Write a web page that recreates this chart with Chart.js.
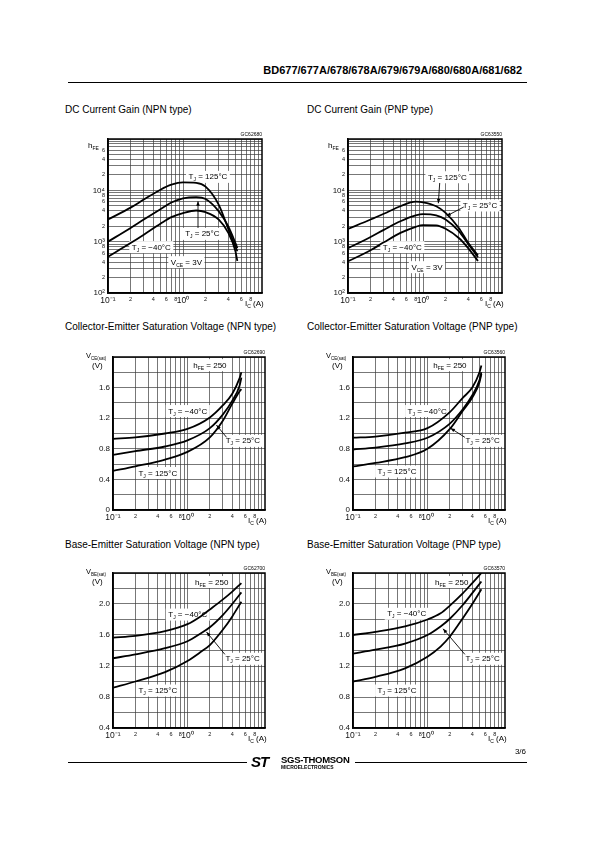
<!DOCTYPE html>
<html><head><meta charset="utf-8"><title>BD677 characteristic curves</title>
<script src="https://cdn.jsdelivr.net/npm/chart.js@4.4.1/dist/chart.umd.min.js"></script>
<style>
html,body{margin:0;padding:0;background:#fff}
body{position:relative;width:595px;height:842px;overflow:hidden;font-family:"Liberation Sans",Arial,sans-serif;color:#000}
.t{position:absolute;white-space:nowrap;line-height:1}
.sec{font-size:10px}
canvas{position:absolute}
.rule{position:absolute;height:0;border-top:1px solid #000}
</style></head><body>
<div class="t" style="right:73px;top:65px;font-size:11px;font-weight:bold">BD677/677A/678/678A/679/679A/680/680A/681/682</div>
<div class="rule" style="left:68px;top:82px;width:459px"></div>

<div class="t sec" style="left:65px;top:105px">DC Current Gain (NPN type)</div>
<div class="t sec" style="left:307px;top:105px">DC Current Gain (PNP type)</div>
<div class="t sec" style="left:65px;top:322px">Collector-Emitter Saturation Voltage (NPN type)</div>
<div class="t sec" style="left:307px;top:322px">Collector-Emitter Saturation Voltage (PNP type)</div>
<div class="t sec" style="left:65px;top:540px">Base-Emitter Saturation Voltage (NPN type)</div>
<div class="t sec" style="left:307px;top:540px">Base-Emitter Saturation Voltage (PNP type)</div>

<canvas id="c1" width="228" height="202" style="left:58px;top:117px"></canvas>
<canvas id="c2" width="228" height="202" style="left:298px;top:117px"></canvas>
<canvas id="c3" width="226" height="201" style="left:63px;top:335px"></canvas>
<canvas id="c4" width="226" height="201" style="left:303px;top:335px"></canvas>
<canvas id="c5" width="226" height="203" style="left:63px;top:551px"></canvas>
<canvas id="c6" width="226" height="203" style="left:303px;top:551px"></canvas>

<div class="t" style="right:69px;top:748px;font-size:8px">3/6</div>
<div class="rule" style="left:68px;top:762px;width:179px"></div>
<div class="t" style="left:251px;top:754px;font-size:15px;font-weight:bold;font-style:italic;letter-spacing:-1px">ST</div>
<div class="t" style="left:281px;top:755px;font-size:9.5px;font-weight:bold;letter-spacing:-0.3px">SGS-THOMSON</div>
<div class="t" style="left:281px;top:765px;font-size:5px;font-weight:bold">MICROELECTRONICS</div>
<div class="rule" style="left:355px;top:762px;width:172px"></div>

<script>
// ---------- data ----------
// DC current gain, NPN (hFE vs IC, VCE = 3 V)
const hfeNpnIc  = [0.1, 0.2, 0.3, 0.5, 0.7, 1, 1.5, 2, 3, 4, 5, 5.3];
const hfeNpn125 = [2700, 4600, 6600, 10300, 12900, 14300, 14000, 11800, 5200, 1800, 800, 650];
const hfeNpn25  = [1000, 1850, 2700, 4300, 5800, 7000, 7400, 6800, 3900, 2000, 940, 750];
const hfeNpnM40 = [510, 940, 1370, 2240, 3000, 3600, 4050, 3750, 2700, 1500, 650, 420];
// DC current gain, PNP
const hfePnpIc  = [0.1, 0.2, 0.3, 0.5, 0.8, 1, 1.5, 2, 3, 4, 5.4];
const hfePnp125 = [1770, 2700, 3500, 4900, 6000, 5850, 4900, 3650, 1850, 950, 540];
const hfePnp25  = [750, 1230, 1700, 2500, 3250, 3450, 3250, 2700, 1600, 900, 500];
const hfePnpM40 = [415, 680, 970, 1480, 1950, 2100, 2080, 1780, 1180, 750, 420];
// VCE(sat), NPN (hFE = 250)
const vceNpnIc  = [0.1, 0.2, 0.5, 1, 2, 3, 4, 5, 5.3];
const vceNpnM40 = [0.93, 0.95, 1.0, 1.06, 1.21, 1.37, 1.52, 1.72, 1.80];
const vceNpn25  = [0.72, 0.77, 0.83, 0.91, 1.07, 1.25, 1.43, 1.62, 1.73];
const vceNpn125 = [0.51, 0.57, 0.66, 0.76, 0.95, 1.17, 1.39, 1.55, 1.58];
// VCE(sat), PNP
const vcePnpIc  = [0.1, 0.2, 0.5, 1, 2, 3, 4, 5, 5.3];
const vcePnpM40 = [0.945, 0.96, 1.01, 1.07, 1.28, 1.47, 1.60, 1.80, 1.89];
const vcePnp25  = [0.79, 0.815, 0.87, 0.945, 1.13, 1.32, 1.50, 1.70, 1.80];
const vcePnp125 = [0.57, 0.615, 0.69, 0.80, 1.06, 1.30, 1.47, 1.67, 1.78];
// VBE(sat), NPN
const vbeNpnIc  = [0.1, 0.2, 0.5, 1, 1.5, 2, 3, 4, 5.3];
const vbeNpnM40 = [1.567, 1.59, 1.65, 1.74, 1.84, 1.93, 2.06, 2.16, 2.27];
const vbeNpn25  = [1.30, 1.35, 1.43, 1.52, 1.62, 1.70, 1.86, 2.0, 2.15];
const vbeNpn125 = [0.92, 1.0, 1.12, 1.265, 1.38, 1.47, 1.67, 1.84, 2.03];
// VBE(sat), PNP
const vbePnpIc  = [0.1, 0.2, 0.5, 1, 1.5, 2, 3, 4, 5.3];
const vbePnpM40 = [1.60, 1.64, 1.71, 1.80, 1.88, 1.98, 2.14, 2.27, 2.40];
const vbePnp25  = [1.36, 1.41, 1.49, 1.60, 1.71, 1.81, 1.99, 2.14, 2.29];
const vbePnp125 = [1.0, 1.06, 1.17, 1.32, 1.45, 1.58, 1.82, 2.0, 2.19];

// tick labels
const icTickValues  = [0.1, 0.2, 0.4, 0.6, 0.8, 1, 2, 4, 6, 8];
const icTickLabels  = ['10⁻¹', '2', '4', '6', '8', '10⁰', '2', '4', '6', '8'];
const hfeTickValues = [100, 200, 400, 600, 800, 1000, 2000, 4000, 6000, 8000, 10000, 20000, 40000, 60000];
const hfeTickLabels = ['10²', '2', '4', '6', '8', '10³', '2', '4', '6', '8', '10⁴', '2', '4', '6'];
const vceTickValues = [0, 0.4, 0.8, 1.2, 1.6];
const vceTickLabels = ['0', '0.4', '0.8', '1.2', '1.6'];
const vbeTickValues = [0.4, 0.8, 1.2, 1.6, 2.0];
const vbeTickLabels = ['0.4', '0.8', '1.2', '1.6', '2.0'];

// ---------- helpers ----------
const FONT = '"Liberation Sans", Arial, sans-serif';
function logGrid(lo, hi) {
  const out = [];
  for (let e = lo; e < hi; e++) for (let m = 1; m < 10; m++) out.push(+(m * Math.pow(10, e)).toPrecision(3));
  out.push(+Math.pow(10, hi).toPrecision(3));
  return out;
}
function linGrid(a, b, step) {
  const out = [];
  for (let v = a; v <= b + 1e-9; v += step) out.push(+v.toFixed(3));
  return out;
}
const icGrid = logGrid(-1, 1);
const hfeGrid = logGrid(2, 5);
const vceGrid = linGrid(0, 2, 0.2);
const vbeGrid = linGrid(0.4, 2.4, 0.2);

function findIdx(v, vals) {
  return vals.findIndex(a => Math.abs(a - v) <= Math.abs(a) * 1e-6 + 1e-9);
}
function isDecadeLabel(lbl) { return lbl && lbl.indexOf('10') === 0; }

function makeAxis(opts) {
  const {type, min, max, grid, tickVals, tickLbls, isX, size} = opts;
  return {
    type, min, max,
    afterBuildTicks: s => { s.ticks = grid.map(v => ({value: v})); },
    afterFit: s => { if (isX) s.height = 26; else s.width = 50; },
    ticks: {
      autoSkip: false, maxRotation: 0, minRotation: 0, padding: isX ? 3 : 3, color: '#111',
      callback: v => { const i = findIdx(v, tickVals); return i >= 0 ? tickLbls[i] : ''; },
      font: c => {
        const v = c.tick ? c.tick.value : 0;
        const i = findIdx(v, tickVals);
        const lbl = i >= 0 ? tickLbls[i] : '';
        let sz = size;
        if (type === 'logarithmic' && !isDecadeLabel(lbl)) sz = 5.5;
        return {family: FONT, size: sz};
      }
    },
    grid: {color: '#3c3c3c', lineWidth: 0.7, drawTicks: false},
    border: {display: true, color: '#000', width: 1.5}
  };
}

function series(xs, ys) { return xs.map((x, i) => ({x, y: ys[i]})); }
function ds(xs, ys) {
  return {data: series(xs, ys), borderColor: '#000', borderWidth: 1.8, pointRadius: 0,
          tension: 0.4, cubicInterpolationMode: 'monotone', fill: false};
}

const TJ = t => [['T', 8], ['J', 5, 2], [' = ' + t + '°C', 8]];
const HFE250 = [['h', 8], ['FE', 5, 2], [' = 250', 8]];
const VCE3 = [['V', 8], ['CE', 5, 2], [' = 3V', 8]];

function measure(ctx, parts) {
  let w = 0;
  const m = parts.map(([t, s, dy]) => { ctx.font = s + 'px ' + FONT; const pw = ctx.measureText(t).width; w += pw; return {t, s, dy: dy || 0, pw}; });
  return {w, m};
}
function drawParts(ctx, x, y, mm) {
  let cx = x;
  mm.m.forEach(p => { ctx.font = p.s + 'px ' + FONT; ctx.fillText(p.t, cx, y + p.dy); cx += p.pw; });
}

const deco = {
  c1: {code: 'GC62680', title: 'hfe',
       labels: [{x: 2.15, y: 18700, p: TJ('125')}, {x: 1.81, y: 1450, p: TJ('25')}, {x: 0.378, y: 800, p: TJ('−40')}, {x: 1.11, y: 408, p: VCE3}],
       arrows: [{x1: 1.585, y1: 1850, x2: 1.585, y2: 6100}]},
  c2: {code: 'GC63550', title: 'hfe',
       labels: [{x: 2.11, y: 18400, p: TJ('125')}, {x: 5.76, y: 5180, p: TJ('25')}, {x: 0.53, y: 800, p: TJ('−40')}, {x: 1.13, y: 326, p: VCE3}],
       arrows: [{x1: 1.67, y1: 13900, x2: 1.6, y2: 5600}, {x1: 3.49, y1: 4730, x2: 2.05, y2: 3150, head: false}]},
  c3: {code: 'GC62690', title: 'vce',
       labels: [{x: 2.0, y: 1.90, p: HFE250}, {x: 1.01, y: 1.30, p: TJ('−40')}, {x: 5.55, y: 0.91, p: TJ('25')}, {x: 0.40, y: 0.49, p: TJ('125')}],
       arrows: [{x1: 3.35, y1: 0.95, x2: 2.45, y2: 1.11}]},
  c4: {code: 'GC63560', title: 'vce',
       labels: [{x: 2.0, y: 1.90, p: HFE250}, {x: 0.99, y: 1.30, p: TJ('−40')}, {x: 5.5, y: 0.91, p: TJ('25')}, {x: 0.39, y: 0.51, p: TJ('125')}],
       arrows: [{x1: 3.18, y1: 0.95, x2: 2.04, y2: 1.07}]},
  c5: {code: 'GC62700', title: 'vbe',
       labels: [{x: 2.12, y: 2.29, p: HFE250}, {x: 1.01, y: 1.87, p: TJ('−40')}, {x: 5.5, y: 1.30, p: TJ('25')}, {x: 0.40, y: 0.89, p: TJ('125')}],
       arrows: [{x1: 3.18, y1: 1.35, x2: 1.80, y2: 1.64}]},
  c6: {code: 'GC63570', title: 'vbe',
       labels: [{x: 2.12, y: 2.29, p: HFE250}, {x: 0.527, y: 1.88, p: TJ('−40')}, {x: 5.5, y: 1.30, p: TJ('25')}, {x: 0.39, y: 0.89, p: TJ('125')}],
       arrows: [{x1: 3.18, y1: 1.35, x2: 1.62, y2: 1.68}]}
};

const decoPlugin = {
  id: 'deco',
  beforeDatasetsDraw(chart) {
    const d = deco[chart.canvas.id]; if (!d) return;
    const ctx = chart.ctx, xs = chart.scales.x, ys = chart.scales.y;
    ctx.save();
    ctx.textBaseline = 'alphabetic';
    d.labels.forEach(l => {
      const px = xs.getPixelForValue(l.x), py = ys.getPixelForValue(l.y);
      const mm = measure(ctx, l.p);
      const left = px - mm.w / 2;
      ctx.fillStyle = '#fff';
      ctx.fillRect(left - 2.5, py - 5.5, mm.w + 5, 12);
      ctx.fillStyle = '#000';
      drawParts(ctx, left, py + 3, mm);
    });
    ctx.restore();
  },
  afterDraw(chart) {
    const d = deco[chart.canvas.id]; if (!d) return;
    const ctx = chart.ctx, a = chart.chartArea, xs = chart.scales.x, ys = chart.scales.y;
    ctx.save();
    // frame
    ctx.strokeStyle = '#000'; ctx.lineWidth = 1.5;
    ctx.strokeRect(a.left, a.top, a.right - a.left, a.bottom - a.top);
    // arrows
    d.arrows.forEach(ar => {
      const x1 = xs.getPixelForValue(ar.x1), y1 = ys.getPixelForValue(ar.y1);
      const x2 = xs.getPixelForValue(ar.x2), y2 = ys.getPixelForValue(ar.y2);
      ctx.lineWidth = 0.9; ctx.strokeStyle = '#000';
      ctx.beginPath(); ctx.moveTo(x1, y1); ctx.lineTo(x2, y2); ctx.stroke();
      const ang = Math.atan2(y2 - y1, x2 - x1), L = 4.5, W = 1.8;
      ctx.fillStyle = '#000';
      ctx.beginPath();
      ctx.moveTo(x2, y2);
      ctx.lineTo(x2 - L * Math.cos(ang) + W * Math.sin(ang), y2 - L * Math.sin(ang) - W * Math.cos(ang));
      ctx.lineTo(x2 - L * Math.cos(ang) - W * Math.sin(ang), y2 - L * Math.sin(ang) + W * Math.cos(ang));
      ctx.closePath(); ctx.fill();
    });
    ctx.fillStyle = '#000';
    ctx.textBaseline = 'alphabetic';
    // chart code
    ctx.font = '5px ' + FONT; ctx.textAlign = 'right';
    ctx.fillText(d.code, a.right, a.top - 3);
    ctx.textAlign = 'left';
    // y title
    if (d.title === 'hfe') {
      drawParts(ctx, a.left - 20, a.top + 9, measure(ctx, [['h', 8], ['FE', 5, 2]]));
    } else {
      const sub = d.title === 'vce' ? 'CE(sat)' : 'BE(sat)';
      drawParts(ctx, a.left - 27, a.top + 1, measure(ctx, [['V', 7.5], [sub, 4.5, 2]]));
      drawParts(ctx, a.left - 21, a.top + 11, measure(ctx, [['(V)', 8]]));
    }
    // x title
    drawParts(ctx, a.right - 17, a.bottom + 13, measure(ctx, [['I', 8], ['C', 5, 2], [' (A)', 8]]));
    ctx.restore();
  }
};

function build(id, xsArr, curves, yType, yMin, yMax, yGrid, yVals, yLbls, xMax) {
  new Chart(document.getElementById(id), {
    type: 'line',
    data: {datasets: curves.map(c => ds(xsArr, c))},
    options: {
      responsive: false, animation: false, devicePixelRatio: 1,
      layout: {padding: {top: 22, right: 24, left: 0, bottom: 0}},
      plugins: {legend: {display: false}, tooltip: {enabled: false}},
      scales: {
        x: makeAxis({type: 'logarithmic', min: 0.1, max: xMax, grid: icGrid, tickVals: icTickValues, tickLbls: icTickLabels, isX: true, size: 8.5}),
        y: makeAxis({type: yType, min: yMin, max: yMax, grid: yGrid, tickVals: yVals, tickLbls: yLbls, isX: false, size: 8})
      }
    },
    plugins: [decoPlugin]
  });
}

build('c1', hfeNpnIc, [hfeNpn125, hfeNpn25, hfeNpnM40], 'logarithmic', 100, 100000, hfeGrid, hfeTickValues, hfeTickLabels, 11.3);
build('c2', hfePnpIc, [hfePnp125, hfePnp25, hfePnpM40], 'logarithmic', 100, 100000, hfeGrid, hfeTickValues, hfeTickLabels, 11.3);
build('c3', vceNpnIc, [vceNpnM40, vceNpn25, vceNpn125], 'linear', 0, 2, vceGrid, vceTickValues, vceTickLabels, 11);
build('c4', vcePnpIc, [vcePnpM40, vcePnp25, vcePnp125], 'linear', 0, 2, vceGrid, vceTickValues, vceTickLabels, 11);
build('c5', vbeNpnIc, [vbeNpnM40, vbeNpn25, vbeNpn125], 'linear', 0.4, 2.4, vbeGrid, vbeTickValues, vbeTickLabels, 11);
build('c6', vbePnpIc, [vbePnpM40, vbePnp25, vbePnp125], 'linear', 0.4, 2.4, vbeGrid, vbeTickValues, vbeTickLabels, 11);
</script>
</body></html>
